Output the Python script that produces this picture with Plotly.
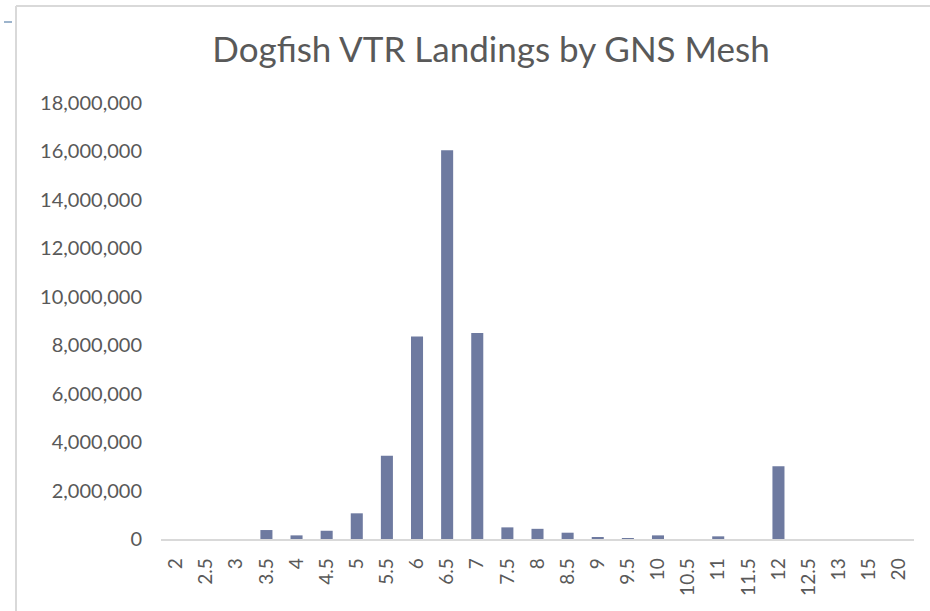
import plotly.graph_objects as go

mesh_sizes = ["2", "2.5", "3", "3.5", "4", "4.5", "5", "5.5", "6", "6.5",
              "7", "7.5", "8", "8.5", "9", "9.5", "10", "10.5", "11", "11.5",
              "12", "12.5", "13", "15", "20"]
landings = [0, 0, 0, 370000, 150000, 340000, 1060000, 3440000, 8360000, 16050000,
            8500000, 480000, 420000, 260000, 50000, 25000, 150000, 0, 110000, 0,
            3000000, 0, 0, 0, 0]
y_ticks = list(range(0, 18000001, 2000000))

W, H = 930, 611
L, R, T, B = 161, 16, 103, 72
pw, ph = W - L - R, H - T - B


def px(x):
    return (x - L) / pw


def py(y):
    return (H - B - y) / ph


fig = go.Figure(go.Bar(
    x=mesh_sizes, y=landings,
    marker=dict(color="#6e7aa0", line=dict(width=0)),
))

fig.update_layout(
    width=W, height=H,
    margin=dict(l=L, r=R, t=T, b=B),
    paper_bgcolor="white", plot_bgcolor="white",
    bargap=0.6, showlegend=False,
    font=dict(family="Lato, sans-serif", color="#595959"),
    title=dict(
        text="Dogfish VTR Landings by GNS Mesh",
        xref="container", x=491 / W, xanchor="center",
        yref="container", y=1 - 50 / H, yanchor="middle",
        font=dict(size=35, color="#595959", family="Lato, sans-serif"),
    ),
    xaxis=dict(
        type="category", tickangle=-90, showgrid=False,
        showline=True, linecolor="#d9d9d9", linewidth=1.5,
        ticks="", ticklabelstandoff=10,
        tickfont=dict(size=19, color="#595959"),
    ),
    yaxis=dict(
        range=[0, 18000000], tickvals=y_ticks, tickformat=",d",
        showgrid=False, zeroline=False, showline=False, ticks="",
        ticklabelstandoff=18,
        tickfont=dict(size=20, color="#595959"),
    ),
)

# outer frame (top and left edges) and small marker at top-left
fig.add_shape(type="line", xref="paper", yref="paper",
              x0=px(16), x1=px(931), y0=py(6), y1=py(6),
              line=dict(color="#d9d9d9", width=2))
fig.add_shape(type="line", xref="paper", yref="paper",
              x0=px(16), x1=px(16), y0=py(6), y1=py(612),
              line=dict(color="#d9d9d9", width=2))
fig.add_shape(type="line", xref="paper", yref="paper",
              x0=px(4), x1=px(12), y0=py(22), y1=py(22),
              line=dict(color="#9db4cc", width=2))

# page has a default body margin; remove it so the figure fills the window
fig.write_html("out.html", config={"displayModeBar": False},
               post_script="document.body.style.margin='0px';")
